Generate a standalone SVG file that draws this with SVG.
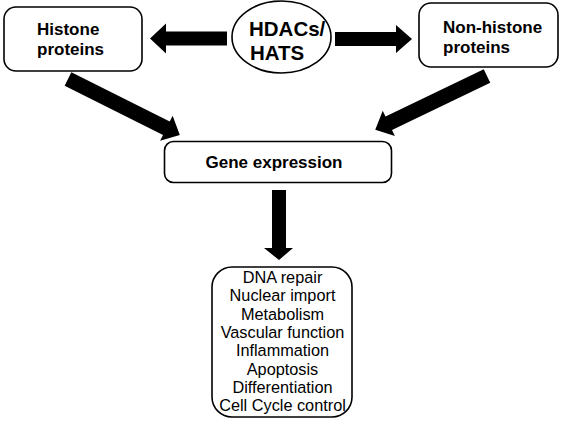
<svg xmlns="http://www.w3.org/2000/svg" width="561" height="421" viewBox="0 0 561 421">
<style>
.box{fill:#fff;stroke:#000;stroke-width:1.6}
.b{font-family:"Liberation Sans",Arial,sans-serif;font-weight:bold;font-size:17px;fill:#000}
.r{font-family:"Liberation Sans",Arial,sans-serif;font-size:16.3px;fill:#000;text-anchor:middle}
.arr{fill:#000}
</style>
<rect width="561" height="421" fill="#fff"/>
<g id="connectors">
<polygon class="arr" points="227,31.5 166,31.5 166,23.5 150,38.5 166,53.5 166,45.5 227,45.5"/>
<polygon class="arr" points="335,32 396,32 396,25 412,39 396,53 396,46 335,46"/>
<polygon class="arr" transform="translate(68,79) rotate(26.57)" points="0,-7.5 110,-7.5 110,-14 125,0 110,14 110,7.5 0,7.5"/>
<polygon class="arr" transform="translate(487,76) rotate(154.3)" points="0,-7.5 109,-7.5 109,-14 124,0 109,14 109,7.5 0,7.5"/>
<polygon class="arr" points="272,190 286,190 286,248 293,248 279,260 264,248 272,248"/>
</g>
<g id="histone">
<rect class="box" x="4" y="7" width="138" height="64" rx="12"/>
<text class="b" x="37" y="35">Histone</text>
<text class="b" x="37" y="55">proteins</text>
</g>
<g id="hdacs">
<ellipse class="box" cx="281.5" cy="37" rx="49.5" ry="36"/>
<text class="b" style="font-size:20.5px" x="249" y="36">HDACs/</text>
<text class="b" style="font-size:20.5px" x="250" y="60">HATS</text>
</g>
<g id="nonhistone">
<rect class="box" x="419" y="3" width="139" height="64" rx="12"/>
<text class="b" x="443" y="33">Non-histone</text>
<text class="b" x="443" y="53">proteins</text>
</g>
<g id="gene">
<rect class="box" x="164.5" y="141.5" width="227" height="41" rx="9"/>
<text class="b" x="274" y="168" text-anchor="middle">Gene expression</text>
</g>
<g id="outcomes">
<rect class="box" x="212" y="267" width="140" height="150" rx="20"/>
<text class="r" x="282.5" y="283">DNA repair</text>
<text class="r" x="282.5" y="301">Nuclear import</text>
<text class="r" x="282.5" y="319.5">Metabolism</text>
<text class="r" x="282.5" y="338">Vascular function</text>
<text class="r" x="282.5" y="356">Inflammation</text>
<text class="r" x="282.5" y="374.5">Apoptosis</text>
<text class="r" x="282.5" y="392.5">Differentiation</text>
<text class="r" x="282.5" y="410.5">Cell Cycle control</text>
</g>
</svg>
